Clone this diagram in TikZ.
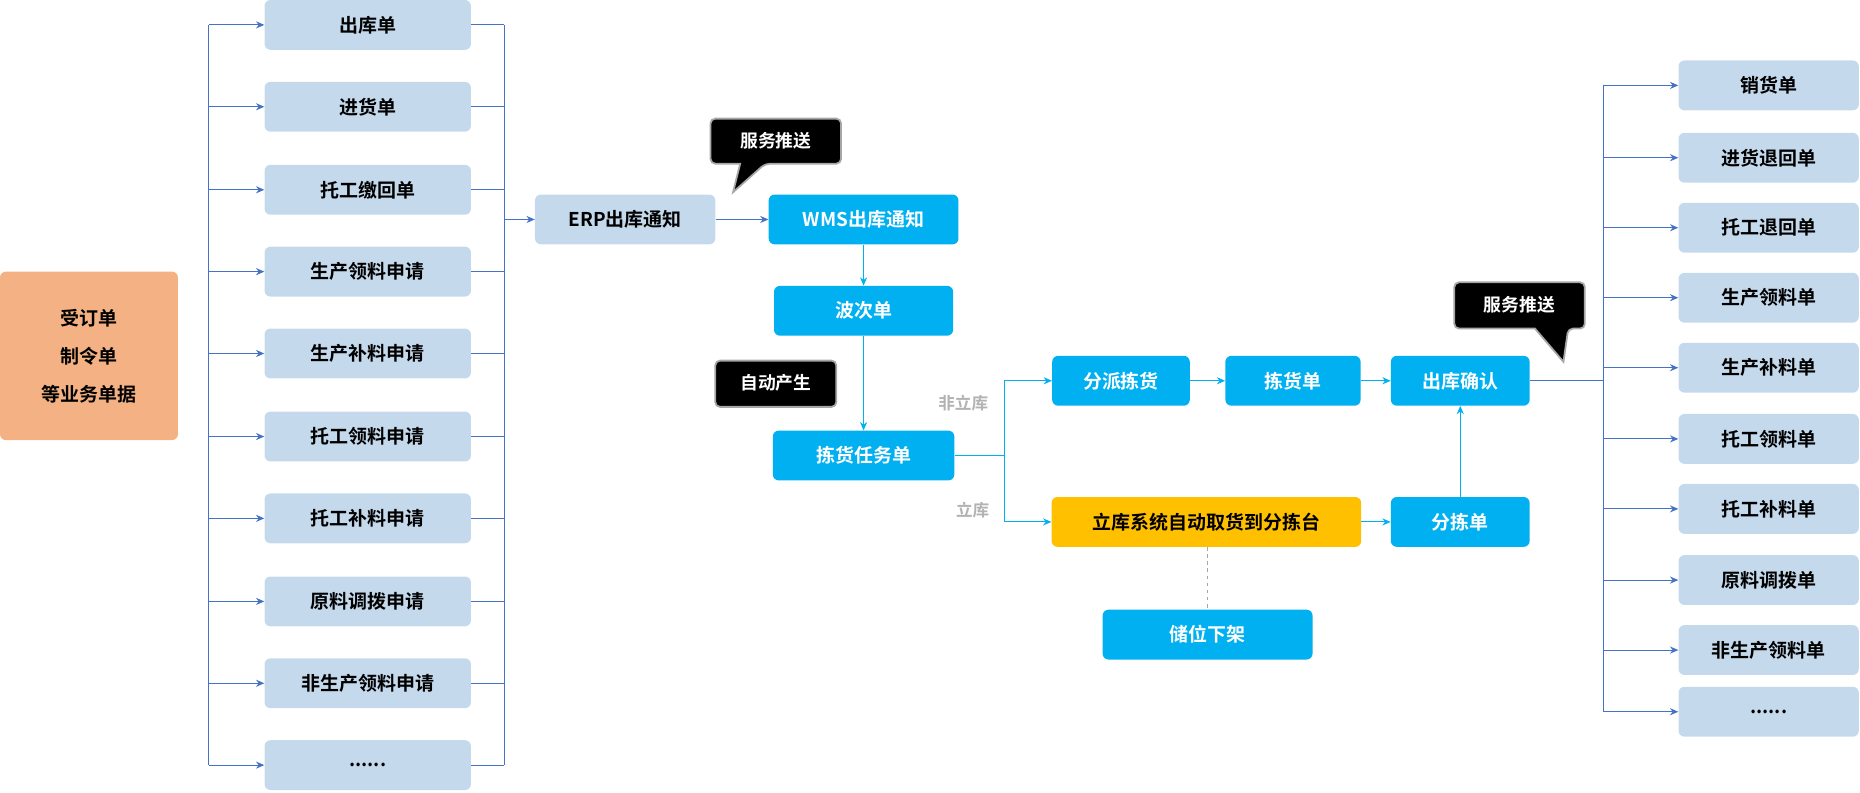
\documentclass[tikz,border=0pt]{standalone}
\usepackage{fontspec}
\setmainfont{Noto Sans CJK SC}[BoldFont={Noto Sans CJK SC Bold}]
\usetikzlibrary{arrows.meta}
\definecolor{lb}{HTML}{C5D9EC}
\definecolor{cy}{HTML}{00B0F0}
\definecolor{og}{HTML}{F4B183}
\definecolor{yl}{HTML}{FFC000}
\definecolor{ln}{HTML}{4472C4}
\newcommand\mysixdots{......}
\begin{document}
\begin{tikzpicture}[x=1pt,y=-1pt,
 box/.style={rounded corners=5pt,minimum height=42pt,font=\fontsize{16}{18}\selectfont\bfseries,inner sep=0pt,anchor=center},
 lbox/.style={box,fill=lb,minimum width=174pt},
 rbox/.style={box,fill=lb,minimum width=152pt},
 cbox/.style={box,fill=cy,text=white},
 bl/.style={draw=ln,line width=0.8pt},
 ba/.style={bl,-{Stealth[length=7pt,width=6pt]}},
 ca/.style={draw=cy,line width=0.8pt,-{Stealth[length=7pt,width=6pt]}},
 lab/.style={text=gray!60,font=\fontsize{14}{16}\selectfont\bfseries},
 call/.style={fill=black,draw=gray!70,line width=1.5pt,rounded corners=4pt}]
\useasboundingbox (0,0) rectangle (1568,668);
\node[box,fill=og,minimum width=150pt,minimum height=142pt,align=center,font=\fontsize{16}{32}\selectfont\bfseries] (src) at (75,300) {受订单\\制令单\\等业务单据};
\foreach \t/\y [count=\i] in {出库单/21,进货单/90,托工缴回单/160,生产领料申请/229,生产补料申请/298,托工领料申请/368,托工补料申请/437,原料调拨申请/507,非生产领料申请/576,\mysixdots/645}{
 \node[lbox] (l\i) at (310,\y) {\t};
 \draw[ba] (176,\y) -- (l\i.west);
 \draw[bl] (l\i.east) -- (425,\y);
}
\draw[bl] (176,21) -- (176,645);
\draw[bl] (425,21) -- (425,645);
\node[lbox,minimum width=152pt] (erp) at (527,185) {ERP出库通知};
\draw[ba] (425,185) -- (erp.west);
\node[cbox,minimum width=160pt] (wms) at (728,185) {WMS出库通知};
\draw[ba] (erp.east) -- (wms.west);
\node[cbox,minimum width=151pt] (bc) at (728,262) {波次单};
\node[cbox,minimum width=153pt] (rw) at (728,384) {拣货任务单};
\draw[ca] (wms.south) -- (bc.north);
\draw[ca] (bc.south) -- (rw.north);
\node[cbox,minimum width=116pt] (fp) at (945,321) {分派拣货};
\node[box,fill=yl,minimum width=261pt] (lk) at (1017,440) {立库系统自动取货到分拣台};
\node[cbox,minimum width=114pt] (jh) at (1090,321) {拣货单};
\node[cbox,minimum width=117pt] (ck) at (1231,321) {出库确认};
\node[cbox,minimum width=117pt] (fj) at (1231,440) {分拣单};
\node[cbox,minimum width=177pt] (cw) at (1018,535) {储位下架};
\coordinate (sp) at (847,384);
\draw[draw=cy,line width=0.8pt] (rw.east) -- (sp);
\draw[ca] (sp) |- (fp.west);
\draw[ca] (sp) |- (lk.west);
\node[lab] at (812,340) {非立库};
\node[lab] at (820,430) {立库};
\draw[ca] (fp.east) -- (jh.west);
\draw[ca] (jh.east) -- (ck.west);
\draw[ca] (lk.east) -- (fj.west);
\draw[ca] (fj.north) -- (ck.south);
\draw[gray!70,dashed,line width=1pt] (lk.south -| cw.north) -- (cw.north);
% callouts
\draw[call] (599,100) -- (709,100) -- (709,138) -- (645,138) [sharp corners] -- (618,162) -- (624,138) [rounded corners=4pt] -- (599,138) -- cycle;
\node[text=white,font=\fontsize{15}{17}\selectfont\bfseries] (c1) at (654,119) {服务推送};
\draw[call] (603,304) rectangle (705,343);
\node[text=white,font=\fontsize{15}{17}\selectfont\bfseries] (c2) at (654,323) {自动产生};
\draw[call] (1226,238) -- (1336,238) -- (1336,277) -- (1322,277) [sharp corners] -- (1318,305) -- (1294,277) [rounded corners=4pt] -- (1226,277) -- cycle;
\node[text=white,font=\fontsize{15}{17}\selectfont\bfseries] (c3) at (1281,257) {服务推送};
% right
\draw[bl] (ck.east) -- (1352,321);
\draw[bl] (1352,72) -- (1352,600);
\foreach \t/\y [count=\i] in {销货单/72,进货退回单/133,托工退回单/192,生产领料单/251,生产补料单/310,托工领料单/370,托工补料单/429,原料调拨单/489,非生产领料单/548,\mysixdots/600}{
 \node[rbox] (r\i) at (1491,\y) {\t};
 \draw[ba] (1352,\y) -- (r\i.west);
}
\end{tikzpicture}
\end{document}
